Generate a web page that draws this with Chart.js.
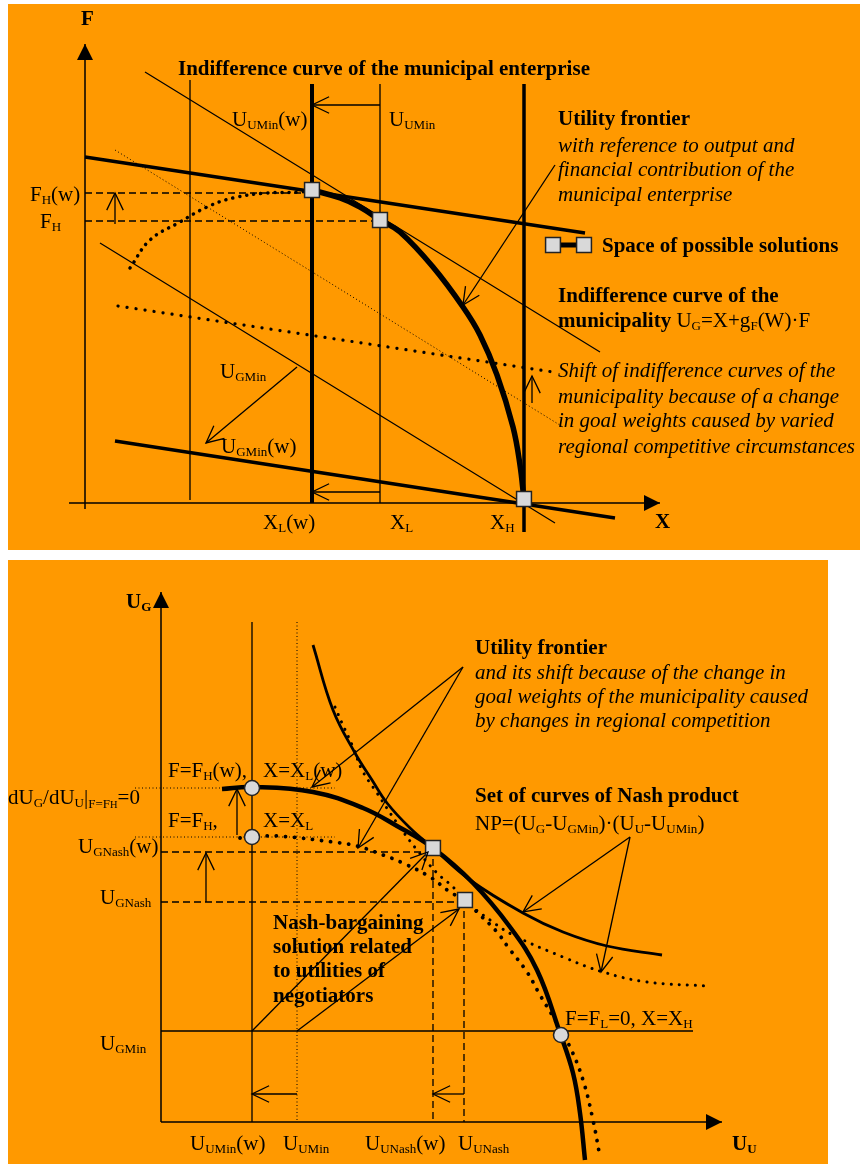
<!DOCTYPE html>
<html>
<head>
<meta charset="utf-8">
<script src="https://cdn.jsdelivr.net/npm/chart.js@4.4.0/dist/chart.umd.min.js"></script>
<style>
  body { margin: 0; background: #fff; width: 860px; height: 1164px; position: relative; overflow: hidden; }
  .panel { position: absolute; background: #ff9900; }
  .panel canvas { display: block; }
  .t { position: absolute; font-family: "Liberation Serif", "Times New Roman", serif; font-size: 21px; line-height: 1;
       white-space: nowrap; transform: translateY(-50%); color: #000; }
  .b { font-weight: bold; }
  .i { font-style: italic; }
  sub { font-size: 0.62em; vertical-align: -0.3em; line-height: 0; }
</style>
</head>
<body>
<div class="panel" style="left:8px;top:4px;width:852px;height:546px"><canvas id="top" width="852" height="546"></canvas></div>
<div class="panel" style="left:8px;top:560px;width:820px;height:604px"><canvas id="bottom" width="820" height="604"></canvas></div>
<script>
// units: pixels measured from each diagram's axis origin (x right, y up)

// ---- upper diagram: output X / financial contribution F ----
const axisF = [[0, -6], [0, 459]];
const axisX = [[-16, 0], [575, 0]];
const vLeft = [[105, 423], [105, 3]];
const vXLw = [[227, 419], [227, 0]];
const vXL = [[295, 419], [295, 0]];
const vXH = [[439, 419], [439, -29]];
const lineA = [[60, 431], [515, 151]];
const lineB = [[15, 260], [470, -20]];
const lineC = [[0, 346], [500, 270]];
const lineD = [[30, 62], [530, -15]];
const lineE = [[33, 197], [468, 131]];
const lineF = [[30, 353], [478, 76]];
const dashFHw = [[0, 310], [227, 310]];
const dashFH = [[0, 282], [295, 282]];
const frontier = [[227, 313], [255, 305], [275, 296], [295, 283], [315, 271], [348, 236], [378, 196],
                  [395, 168], [412, 128], [428, 76], [435, 38], [439, 3]];
const frontierShift = [[45, 235], [65, 263], [95, 281], [122, 296], [148, 305], [182, 310], [215, 311], [227, 313]];
const solutions = [[227, 313], [295, 283], [439, 4]];
const legendSample = [[468, 258], [499, 258]];
const topArrows = [
  [[295, 398], [227, 398]],
  [[295, 11], [227, 11]],
  [[30, 279], [30, 310]],
  [[470, 338], [378, 198]],
  [[447, 100], [447, 127]],
  [[212, 136], [121, 60]]
];

// ---- lower diagram: utilities U_U / U_G ----
const axisUG = [[0, 0], [0, 530]];
const axisUU = [[0, 0], [561, 0]];
const vUUMinW = [[91, 500], [91, 0]];
const vUUMin = [[136, 500], [136, 0]];
const vUUNashW = [[272, 274], [272, 0]];
const vUUNash = [[303, 222], [303, 0]];
const hUGMin = [[0, 91], [532, 91]];
const hUGNash = [[0, 220], [303, 220]];
const hUGNashW = [[0, 270], [272, 270]];
const hFHw = [[-26, 334], [174, 334]];
const hFH = [[-26, 285], [174, 285]];
const frontierW = [[61, 333], [91, 335], [152, 330], [202, 314], [236, 296], [272, 274], [312, 239],
                   [349, 195], [376, 152], [399, 89], [412, 49], [419, 9], [424, -38]];
const frontierOld = [[79, 284], [91, 285], [116, 286], [172, 280], [196, 276], [222, 267], [242, 259],
                     [269, 245], [289, 230], [303, 222], [319, 207], [336, 190], [347, 175], [366, 150],
                     [379, 127], [394, 102], [409, 75], [422, 42], [432, 2], [439, -35]];
const nashW = [[152, 477], [172, 412], [194, 369], [211, 342], [226, 319], [249, 294], [272, 274],
               [309, 242], [362, 209], [402, 190], [446, 176], [501, 167]];
const nashOld = [[174, 415], [181, 399], [192, 375], [201, 352], [216, 329], [236, 299], [256, 272],
                 [276, 249], [292, 235], [303, 222], [329, 202], [352, 187], [402, 165], [442, 150],
                 [486, 140], [547, 136]];
const nashPoints = [[272, 274], [304, 222]];
const cornerPoints = [[91, 334], [91, 285], [400, 87]];
const bottomArrows = [
  [[302, 455], [151, 335]],
  [[302, 455], [197, 274]],
  [[469, 285], [362, 210]],
  [[469, 285], [440, 150]],
  [[91, 91], [267, 270]],
  [[136, 91], [298, 213]],
  [[45, 220], [45, 269]],
  [[76, 287], [76, 333]],
  [[136, 28], [91, 28]],
  [[303, 28], [272, 28]]
];

const pts = a => a.map(([x, y]) => ({x, y}));
const DOTS = {borderDash: [0.1, 9], borderCapStyle: 'round'};
const FINE = {borderDash: [1, 2.5]};
const DASH = {borderDash: [7, 4]};

const line = (data, width, extra) => Object.assign({
  data: pts(data), showLine: true, borderColor: '#000', borderWidth: width,
  pointRadius: 0, pointHoverRadius: 0, tension: 0, order: 1
}, extra || {});

const marks = (data, style, r) => ({
  data: pts(data), showLine: false, pointStyle: style, pointRadius: r, pointHoverRadius: r,
  pointBackgroundColor: '#d9d9d9', pointBorderColor: '#222', pointBorderWidth: 1.5, order: 0
});

// arrow heads at the last point of datasets flagged with head
const arrowHeads = {
  id: 'arrowHeads',
  afterDatasetsDraw(chart) {
    const ctx = chart.ctx;
    chart.data.datasets.forEach((ds, i) => {
      if (!ds.head) return;
      const el = chart.getDatasetMeta(i).data;
      const a = el[el.length - 2], b = el[el.length - 1];
      const ang = Math.atan2(b.y - a.y, b.x - a.x);
      ctx.save();
      ctx.strokeStyle = '#000';
      ctx.fillStyle = '#000';
      if (ds.head === 'fill') {
        const len = 16, half = 8;
        const bx = b.x - len * Math.cos(ang), by = b.y - len * Math.sin(ang);
        ctx.beginPath();
        ctx.moveTo(b.x, b.y);
        ctx.lineTo(bx + half * Math.sin(ang), by - half * Math.cos(ang));
        ctx.lineTo(bx - half * Math.sin(ang), by + half * Math.cos(ang));
        ctx.closePath();
        ctx.fill();
      } else {
        const len = 19, spread = 0.45;
        ctx.lineWidth = 1.3;
        ctx.beginPath();
        ctx.moveTo(b.x - len * Math.cos(ang - spread), b.y - len * Math.sin(ang - spread));
        ctx.lineTo(b.x, b.y);
        ctx.lineTo(b.x - len * Math.cos(ang + spread), b.y - len * Math.sin(ang + spread));
        ctx.stroke();
      }
      ctx.restore();
    });
  }
};

const makeChart = function(id, xr, yr, datasets) {
  return new Chart(document.getElementById(id), {
    type: 'scatter',
    data: {datasets},
    options: {
      responsive: false, animation: false, devicePixelRatio: 1, events: [],
      layout: {padding: 0, autoPadding: false},
      scales: {
        x: {type: 'linear', min: xr[0], max: xr[1], display: false},
        y: {type: 'linear', min: yr[0], max: yr[1], display: false}
      },
      plugins: {legend: {display: false}, tooltip: {enabled: false}}
    },
    plugins: [arrowHeads]
  });
};

const topSets = [
  line(axisF, 1.5, {head: 'fill'}),
  line(axisX, 1.5, {head: 'fill'}),
  line(vLeft, 1.3),
  line(vXLw, 4),
  line(vXL, 1.3),
  line(vXH, 3.5),
  line(lineA, 1.3),
  line(lineB, 1.3),
  line(lineC, 3.5),
  line(lineD, 3.5),
  line(lineE, 3.2, DOTS),
  line(lineF, 1, FINE),
  line(dashFHw, 1.3, DASH),
  line(dashFH, 1.3, DASH),
  line(frontier, 5.5, {tension: 0.4}),
  line(frontierShift, 3.5, Object.assign({tension: 0.4}, {borderDash: [0.1, 7], borderCapStyle: 'round'})),
  line(legendSample, 5),
  marks(solutions, 'rect', 10.5),
  marks(legendSample, 'rect', 10.5)
];
topArrows.forEach(a => topSets.push(line(a, 1.3, {head: 'open'})));

const bottomSets = [
  line(axisUG, 1.5, {head: 'fill'}),
  line(axisUU, 1.5, {head: 'fill'}),
  line(vUUMinW, 1.3),
  line(vUUMin, 1, FINE),
  line(vUUNashW, 1.3, DASH),
  line(vUUNash, 1.3, DASH),
  line(hUGMin, 1.3),
  line(hUGNash, 1.3, DASH),
  line(hUGNashW, 1.3, DASH),
  line(hFHw, 1, FINE),
  line(hFH, 1, FINE),
  line(frontierW, 4.5, {tension: 0.4}),
  line(frontierOld, 3.8, Object.assign({tension: 0.4}, DOTS)),
  line(nashW, 2.8, {tension: 0.4}),
  line(nashOld, 3, Object.assign({tension: 0.4}, {borderDash: [0.1, 8], borderCapStyle: 'round'})),
  marks(nashPoints, 'rect', 10.5),
  marks(cornerPoints, 'circle', 7.5)
];
bottomArrows.forEach(a => bottomSets.push(line(a, 1.3, {head: 'open'})));

makeChart('top', [-77, 775], [-47, 499], topSets);
makeChart('bottom', [-153, 667], [-42, 562], bottomSets);

// texts: page x (left edge), page y (middle), html, class
const labels = [
  [81, 18, 'F', 'b'],
  [178, 68, 'Indifference curve of the municipal enterprise', 'b'],
  [232, 119, 'U<sub>UMin</sub>(w)', ''],
  [389, 119, 'U<sub>UMin</sub>', ''],
  [558, 118, 'Utility frontier', 'b'],
  [558, 145, 'with reference to output and', 'i'],
  [558, 169, 'financial contribution of the', 'i'],
  [558, 194, 'municipal enterprise', 'i'],
  [602, 245, 'Space of possible solutions', 'b'],
  [30, 194, 'F<sub>H</sub>(w)', ''],
  [40, 221, 'F<sub>H</sub>', ''],
  [558, 295, 'Indifference curve of the', 'b'],
  [558, 320, '<b>municipality</b> U<sub>G</sub>=X+g<sub>F</sub>(W)·F', ''],
  [558, 370, 'Shift of indifference curves of the', 'i'],
  [558, 396, 'municipality because of a change', 'i'],
  [558, 420, 'in goal weights caused by varied', 'i'],
  [558, 446, 'regional competitive circumstances', 'i'],
  [220, 371, 'U<sub>GMin</sub>', ''],
  [221, 446, 'U<sub>GMin</sub>(w)', ''],
  [263, 522, 'X<sub>L</sub>(w)', ''],
  [390, 522, 'X<sub>L</sub>', ''],
  [490, 522, 'X<sub>H</sub>', ''],
  [655, 521, 'X', 'b'],

  [126, 601, 'U<sub>G</sub>', 'b'],
  [475, 647, 'Utility frontier', 'b'],
  [475, 672, 'and its shift because of the change in', 'i'],
  [475, 696, 'goal weights of the municipality caused', 'i'],
  [475, 720, 'by changes in regional competition', 'i'],
  [168, 770, 'F=F<sub>H</sub>(w),', ''],
  [263, 770, 'X=X<sub>L</sub>(w)', ''],
  [8, 797, 'dU<sub>G</sub>/dU<sub>U</sub>|<sub>F=F<span style="font-size:0.8em">H</span></sub>=0', ''],
  [475, 795, 'Set of curves of Nash product', 'b'],
  [475, 823, 'NP=(U<sub>G</sub>-U<sub>GMin</sub>)·(U<sub>U</sub>-U<sub>UMin</sub>)', ''],
  [168, 820, 'F=F<sub>H</sub>,', ''],
  [263, 820, 'X=X<sub>L</sub>', ''],
  [78, 846, 'U<sub>GNash</sub>(w)', ''],
  [100, 897, 'U<sub>GNash</sub>', ''],
  [273, 922, 'Nash-bargaining', 'b'],
  [273, 946, 'solution related', 'b'],
  [273, 970, 'to utilities of', 'b'],
  [273, 995, 'negotiators', 'b'],
  [565, 1018, 'F=F<sub>L</sub>=0, X=X<sub>H</sub>', ''],
  [100, 1043, 'U<sub>GMin</sub>', ''],
  [190, 1143, 'U<sub>UMin</sub>(w)', ''],
  [283, 1143, 'U<sub>UMin</sub>', ''],
  [365, 1143, 'U<sub>UNash</sub>(w)', ''],
  [458, 1143, 'U<sub>UNash</sub>', ''],
  [732, 1143, 'U<sub>U</sub>', 'b']
];

labels.forEach(([x, y, html, cls]) => {
  const d = document.createElement('div');
  d.className = 't ' + cls;
  d.style.left = x + 'px';
  d.style.top = y + 'px';
  d.innerHTML = html;
  document.body.appendChild(d);
});
</script>
</body>
</html>
